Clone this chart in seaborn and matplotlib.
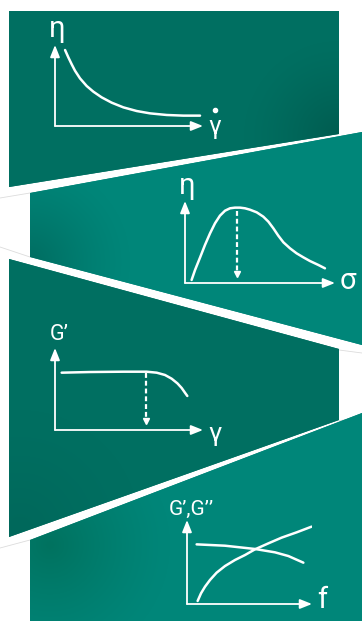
import numpy as np
import matplotlib
matplotlib.use("Agg")
import matplotlib.pyplot as plt
from matplotlib.patches import Polygon
from matplotlib.colors import to_rgb
import seaborn as sns

sns.set_style("white")
plt.rcParams['font.family'] = ['Roboto', 'DejaVu Sans']

# ---------------- data (normalised schematic values) ----------------
# panel 1: viscosity vs shear rate
p1_rate = [0.068, 0.090, 0.113, 0.135, 0.169, 0.214, 0.259, 0.315, 0.383, 0.462,
           0.552, 0.642, 0.755, 0.867, 0.980]
p1_eta = [0.938, 0.848, 0.761, 0.683, 0.588, 0.494, 0.424, 0.354, 0.288, 0.230,
          0.185, 0.156, 0.136, 0.128, 0.128]

# panel 2: viscosity vs shear stress (yield point)
p2_sigma = [0.044, 0.067, 0.100, 0.133, 0.167, 0.200, 0.233, 0.267, 0.300, 0.333,
            0.367, 0.400, 0.433, 0.478, 0.522, 0.556, 0.589, 0.622, 0.656, 0.700,
            0.744, 0.789, 0.833, 0.889, 0.933]
p2_eta = [0.037, 0.159, 0.309, 0.463, 0.606, 0.728, 0.821, 0.882, 0.911, 0.919,
          0.919, 0.911, 0.894, 0.862, 0.809, 0.748, 0.667, 0.577, 0.496, 0.423,
          0.362, 0.313, 0.268, 0.220, 0.179]
p2_mark = [0.344, 0.880, 0.075]   # x, top, bottom of dashed arrow

# panel 3: storage modulus vs strain (amplitude sweep)
p3_strain = [0.045, 0.236, 0.462, 0.619, 0.687, 0.743, 0.788, 0.827, 0.856, 0.878, 0.894]
p3_g1 = [0.699, 0.707, 0.711, 0.711, 0.699, 0.671, 0.626, 0.569, 0.512, 0.455, 0.415]
p3_mark = [0.615, 0.690, 0.081]

# panel 4: G', G'' vs frequency
p4_f_g2 = [0.077, 0.304, 0.544, 0.704, 0.811, 0.931]
p4_g2 = [0.710, 0.694, 0.655, 0.615, 0.571, 0.492]
p4_f_g1 = [0.085, 0.112, 0.144, 0.184, 0.237, 0.304, 0.384, 0.464, 0.544, 0.651,
           0.757, 0.877, 0.997]
p4_g1 = [0.036, 0.127, 0.206, 0.286, 0.373, 0.452, 0.524, 0.583, 0.651, 0.722,
         0.790, 0.853, 0.921]

labels = {
    "p1_y": "η", "p1_x": "γ",
    "p2_y": "η", "p2_x": "σ",
    "p3_y": "G’", "p3_x": "γ",
    "p4_y": "G’,G’’", "p4_x": "f",
}

# ---------------- figure ----------------
W, H = 362, 621
fig = plt.figure(figsize=(W / 100, H / 100), dpi=100)
bg = fig.add_axes([0, 0, 1, 1])
bg.set_xlim(0, W)
bg.set_ylim(H, 0)
bg.axis("off")

yy, xx = np.mgrid[0:H, 0:W] + 0.5


def shade_img(base, dark, cx, cy, r):
    t = np.clip(1 - np.hypot(xx - cx, yy - cy) / r, 0, 1) ** 1.3
    b = np.array(to_rgb(base))
    d = np.array(to_rgb(dark))
    return b[None, None, :] * (1 - t[..., None]) + d[None, None, :] * t[..., None]


DARK = "#006f61"
LIGHT = "#008679"
panels = [
    ([(9, 11), (339, 11), (339, 134), (9, 187)], DARK, "#005c50", 339, 136, 95),
    ([(30, 193), (362, 132), (362, 345), (30, 257)], LIGHT, "#006d61", 30, 262, 100),
    ([(9, 259), (339, 349), (339, 420), (9, 537)], DARK, "#00685b", 20, 530, 120),
    ([(30, 540), (362, 413), (362, 621), (30, 621)], LIGHT, "#00725f", 50, 545, 120),
]
for pts, base, dark, cx, cy, r in panels:
    poly = Polygon(pts, closed=True, facecolor=base, edgecolor="none")
    bg.add_patch(poly)
    im = bg.imshow(shade_img(base, dark, cx, cy, r), extent=(0, W, H, 0),
                   origin="upper", interpolation="bilinear", zorder=1)
    im.set_clip_path(poly)

# faint seam continuations
for (x0, y0), (x1, y1) in [((0, 198), (30, 193)), ((0, 247), (30, 257)),
                           ((0, 548), (30, 540)), ((339, 350), (362, 353)),
                           ((339, 421), (362, 416))]:
    bg.plot([x0, x1], [y0, y1], color="#dcdcdc", lw=0.6, zorder=0.5)


def inset(x0, y0, xt, yt):
    ax = fig.add_axes([x0 / W, 1 - y0 / H, (xt - x0) / W, (y0 - yt) / H])
    ax.set_xlim(0, 1)
    ax.set_ylim(0, 1)
    ax.axis("off")
    ax.patch.set_alpha(0)
    ap = dict(arrowstyle="-|>,head_length=0.55,head_width=0.22", color="white",
              lw=1.3, shrinkA=0, shrinkB=0, mutation_scale=13)
    ax.annotate("", xy=(1, 0), xytext=(0, 0), xycoords="axes fraction", arrowprops=ap)
    ax.annotate("", xy=(0, 1), xytext=(0, 0), xycoords="axes fraction", arrowprops=ap)
    return ax


def curve(ax, x, y):
    sns.lineplot(x=x, y=y, ax=ax, color="white", lw=1.8, sort=False,
                 estimator=None, legend=False, solid_capstyle="round",
                 solid_joinstyle="round")


def dashed(ax, m):
    x, top, bot = m
    ax.plot([x, x], [top, bot + 0.04], color="white", lw=1.6, dashes=(2.2, 1.3))
    ax.plot([x], [bot + 0.03], marker="v", ms=5, color="white", mec="white")


ax1 = inset(55, 126, 203, 45)
curve(ax1, p1_rate, p1_eta)
ax2 = inset(185, 283, 335, 201)
curve(ax2, p2_sigma, p2_eta)
dashed(ax2, p2_mark)
ax3 = inset(55, 430, 203, 348)
curve(ax3, p3_strain, p3_g1)
dashed(ax3, p3_mark)
ax4 = inset(187, 604, 312, 520)
curve(ax4, p4_f_g2, p4_g2)
curve(ax4, p4_f_g1, p4_g1)

tk = dict(color="white", ha="center", va="center", zorder=5)
bg.text(57, 29, labels["p1_y"], fontsize=21, **tk)
bg.text(215, 127, labels["p1_x"], fontsize=18, **tk)
bg.plot([215], [110], marker="o", ms=3, color="white", zorder=5)
bg.text(187, 186, labels["p2_y"], fontsize=21, **tk)
bg.text(348, 281, labels["p2_x"], fontsize=21, **tk)
bg.text(59, 335, labels["p3_y"], fontsize=15.5, **tk)
bg.text(215, 434, labels["p3_x"], fontsize=19, **tk)
bg.text(191, 509, labels["p4_y"], fontsize=15, **tk)
bg.text(322, 600, labels["p4_x"], fontsize=21, **tk)

fig.savefig("out.png", dpi=100)
